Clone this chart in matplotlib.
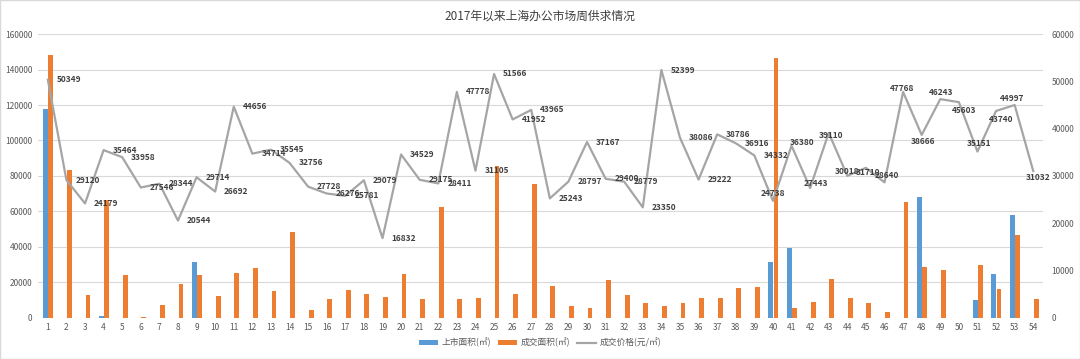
import numpy as np
import matplotlib.pyplot as plt
from matplotlib.patches import Rectangle

plt.rcParams['font.family'] = ['Noto Sans CJK SC', 'DejaVu Sans']

weeks = np.arange(1, 55)
# 上市面积 (m2)
supply = [118000, 0, 0, 1000, 0, 0, 0, 0, 31300, 0,
          0, 0, 0, 0, 0, 0, 0, 0, 0, 0,
          0, 0, 0, 0, 0, 0, 0, 0, 0, 0,
          0, 0, 0, 0, 0, 0, 0, 0, 0, 31300,
          39500, 0, 0, 0, 0, 0, 0, 68200, 0, 0,
          10000, 24500, 58000, 0]
# 成交面积 (m2)
deals = [148000, 83500, 12800, 66300, 24100, 500, 7200, 19200, 24100, 12300,
         25500, 27900, 15100, 48500, 4500, 10800, 15500, 13600, 11900, 24500,
         10600, 62600, 10400, 11300, 85400, 13600, 75600, 17900, 6400, 5300,
         21300, 12700, 8100, 6600, 8100, 11000, 11000, 17000, 17500, 146800,
         5500, 8900, 21900, 11300, 8500, 3000, 65000, 28700, 27000, 0,
         29600, 16400, 46900, 10400]
# 成交价格 (元/m2)
price = [50349, 29120, 24179, 35464, 33958, 27546, 28344, 20544, 29714, 26692,
         44656, 34714, 35545, 32756, 27728, 26276, 25781, 29079, 16832, 34529,
         29175, 28411, 47778, 31105, 51566, 41952, 43965, 25243, 28797, 37167,
         29400, 28779, 23350, 52399, 38086, 29222, 38786, 36916, 34332, 24738,
         36380, 27443, 39110, 30018, 31710, 28640, 47768, 38666, 46243, 45603,
         35151, 43740, 44997, 31032]

# label placement offsets (pixels) for weeks 40..54, centred labels
late_offsets = [(0, 7), (11, 3), (6, 4), (2, -3), (0, 4), (2, -5), (2, 7),
                (-1, 3), (1, -7), (1, 7), (5, -8), (2, 8), (5, -9), (-3, 7), (5, -6)]

blue = '#5b9bd5'
orange = '#ed7d31'
gray = '#a5a5a5'
txt = '#595959'

fig = plt.figure(figsize=(10.8, 3.59), dpi=100)
ax = fig.add_axes([0.035, 0.115, 0.931, 0.79])
ax2 = ax.twinx()

w = 0.26
ax.bar(weeks - 0.12, supply, width=w, color=blue, label='上市面积(㎡)', zorder=2)
ax.bar(weeks + 0.16, deals, width=w, color=orange, label='成交面积(㎡)', zorder=2)
ax2.plot(weeks, price, color=gray, lw=1.6, label='成交价格(元/㎡)', zorder=3)

for i, (x, v) in enumerate(zip(weeks, price)):
    if i < 39:
        ax2.annotate(str(v), (x, v), xytext=(9, 0), textcoords='offset pixels',
                     ha='left', va='center', fontsize=6, fontweight='bold',
                     color='#404040', zorder=4)
    else:
        dx, dy = late_offsets[i - 39]
        ax2.annotate(str(v), (x, v), xytext=(dx, dy), textcoords='offset pixels',
                     ha='center', va='center', fontsize=6, fontweight='bold',
                     color='#404040', zorder=4)

ax.set_xlim(0.46, 54.54)
ax.set_ylim(0, 160000)
ax.set_yticks(np.arange(0, 160001, 20000))
ax2.set_ylim(0, 60000)
ax2.set_yticks(np.arange(0, 60001, 10000))
ax.set_xticks(weeks)
ax.set_xticklabels([str(i) for i in weeks])

ax.grid(axis='y', color='#d9d9d9', lw=0.8, zorder=0)
ax.set_axisbelow(True)
for a in (ax, ax2):
    for s in a.spines.values():
        s.set_visible(False)
    a.tick_params(length=0, labelsize=6, colors=txt)
ax.tick_params(axis='x', pad=4)
ax.tick_params(axis='y', pad=4)
ax2.tick_params(axis='y', pad=6)

fig.text(0.5, 0.955, '2017年以来上海办公市场周供求情况', ha='center', va='center',
         fontsize=8.5, color='#404040')

h1, l1 = ax.get_legend_handles_labels()
h2, l2 = ax2.get_legend_handles_labels()
fig.legend(h1 + h2, l1 + l2, loc='center', bbox_to_anchor=(0.5, 0.045), ncol=3,
           frameon=False, fontsize=6.3, labelcolor=txt, handlelength=2.2,
           handleheight=0.6, columnspacing=0.8, handletextpad=0.4)

fig.patches.append(Rectangle((0, 0), 1, 1, transform=fig.transFigure, fill=False,
                             edgecolor='#d9d9d9', lw=1))

fig.savefig('out.png', dpi=100)
